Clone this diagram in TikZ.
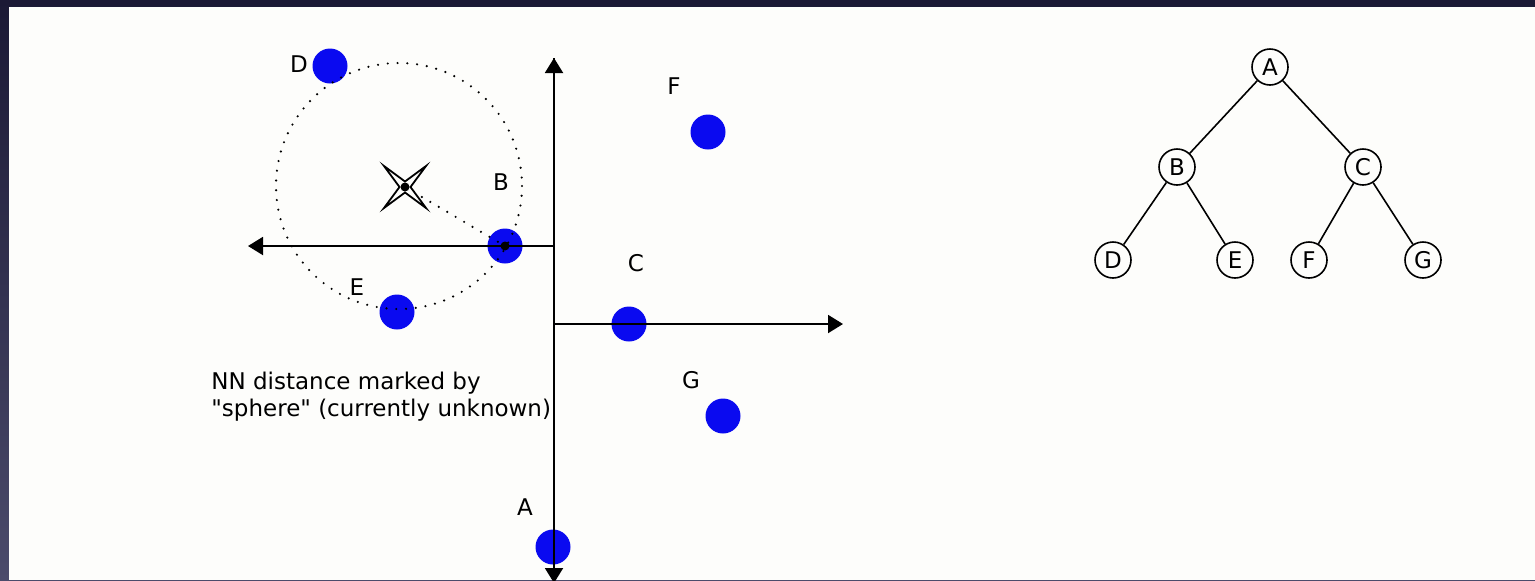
\documentclass[tikz,border=0pt]{standalone}
\usepackage{fontspec}
\setmainfont{DejaVu Sans}[Ligatures=TeXOff]
\usetikzlibrary{arrows.meta}
\definecolor{frametop}{HTML}{1B1935}
\definecolor{framebot}{HTML}{4B4B6B}
\definecolor{paper}{HTML}{FDFDFB}
\definecolor{ptblue}{HTML}{0A0AF0}
\tikzset{
  pt/.style={circle, fill=ptblue, minimum size=17.5pt, inner sep=0pt},
  lbl/.style={inner sep=0pt, font=\fontsize{11.5}{13.5}\selectfont},
  axis/.style={line width=1pt, -{Triangle[length=7.5pt,width=9pt]}},
  dotline/.style={line width=1.2pt, line cap=round, dash pattern=on 0pt off 4.9pt},
  tnode/.style={circle, draw, line width=0.8pt, minimum size=18pt, inner sep=0pt, font=\fontsize{11.5}{13.5}\selectfont},
  tedge/.style={line width=0.8pt}
}
\begin{document}
\begin{tikzpicture}[x=0.5pt,y=-0.5pt]
\useasboundingbox (0,0) rectangle (1535,580);
\clip (0,0) rectangle (1535,580);
\shade[top color=frametop, bottom color=framebot] (0,0) rectangle (1535,580);
\fill[paper] (9,7) rectangle (1535,580);

% points
\node[pt] (pD) at (330,66) {};
\node[pt] (pB) at (505,246) {};
\node[pt] (pE) at (397,312) {};
\node[pt] (pC) at (629,324) {};
\node[pt] (pF) at (708,132) {};
\node[pt] (pG) at (723,416) {};
\node[pt] (pA) at (553,547) {};

% labels
\node[lbl] (lD) at (299,64) {D};
\node[lbl] (lB) at (501,182) {B};
\node[lbl] (lE) at (357,287) {E};
\node[lbl] (lC) at (636,263) {C};
\node[lbl] (lF) at (674,86) {F};
\node[lbl] (lG) at (691,380) {G};
\node[lbl] (lA) at (525,507) {A};

% dotted sphere
\coordinate (cc) at (399,186);
\draw[dotline] (cc) circle[radius=123];
\coordinate (q) at (405,187);
\draw[dotline] (q) -- (pB.center);

% axes
\coordinate (vtop) at (554,58);
\coordinate (vbot) at (554,583);
\coordinate (o1) at (554,246);
\coordinate (lft) at (248,246);
\coordinate (o2) at (554,324);
\coordinate (rgt) at (843,324);
\draw[axis] (vbot) -- (vtop);
\draw[axis] (vtop) -- (vbot);
\draw[axis] (o1) -- (lft);
\draw[axis] (o2) -- (rgt);

% query star
\draw[line width=0.9pt, fill=paper, line join=miter, shift={(q)}]
  (-21,-21) -- (0,-5.5) -- (21,-21) -- (5.5,0) -- (21,21) -- (0,5.5) -- (-21,21) -- (-5.5,0) -- cycle;
\fill (q) circle[radius=4.5];
\fill (pB.center) circle[radius=4.5];

% caption
\node[lbl, anchor=north west, align=left] (cap) at (211,372)
  {NN distance marked by\\"sphere" (currently unknown)};

% tree
\node[tnode] (tA) at (1270,67) {A};
\node[tnode] (tB) at (1177,167) {B};
\node[tnode] (tC) at (1363,167) {C};
\node[tnode] (tD) at (1113,260) {D};
\node[tnode] (tE) at (1235,260) {E};
\node[tnode] (tF) at (1309,260) {F};
\node[tnode] (tG) at (1423,260) {G};
\draw[tedge] (tA) -- (tB);
\draw[tedge] (tA) -- (tC);
\draw[tedge] (tB) -- (tD);
\draw[tedge] (tB) -- (tE);
\draw[tedge] (tC) -- (tF);
\draw[tedge] (tC) -- (tG);
\end{tikzpicture}
\end{document}
